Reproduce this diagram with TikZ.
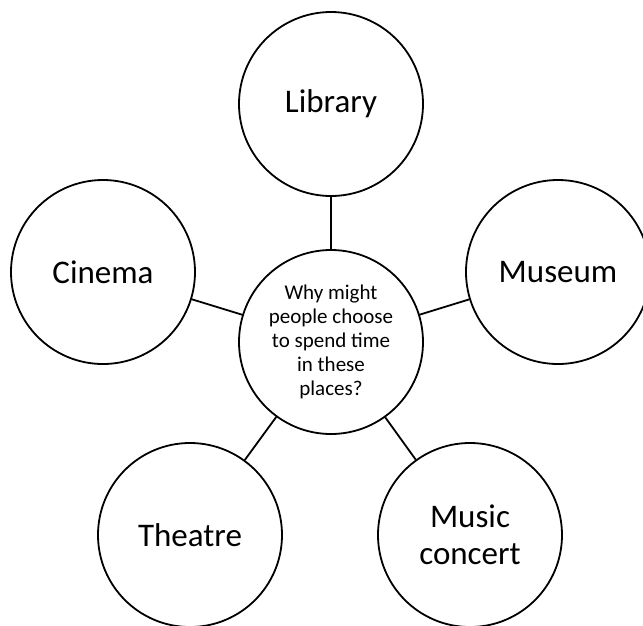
\documentclass[tikz,border=0pt]{standalone}
\usepackage{fontspec}
\setmainfont{Carlito}
\begin{document}
\begin{tikzpicture}[x=1pt,y=-1pt,
  bubble/.style={circle,draw=black,line width=1.8pt,fill=white,minimum size=184pt,inner sep=0pt,align=center,font=\fontsize{33}{37}\selectfont},
  hub/.style={bubble,font=\fontsize{21}{24}\selectfont},
  link/.style={draw=black,line width=1.8pt}]
\useasboundingbox (0,0) rectangle (643,625);
\node[hub] (c) at (331,342) {Why might\\people choose\\to spend time\\in these\\places?};
\node[bubble] (lib) at (331,104) {Library};
\node[bubble] (cin) at (103,272) {Cinema};
\node[bubble] (mus) at (558,272) {Museum};
\node[bubble] (the) at (190,535) {Theatre};
\node[bubble] (con) at (470,535) {Music\\concert};
\draw[link] (c) -- (lib);
\draw[link] (c) -- (cin);
\draw[link] (c) -- (mus);
\draw[link] (c) -- (the);
\draw[link] (c) -- (con);
\end{tikzpicture}
\end{document}
